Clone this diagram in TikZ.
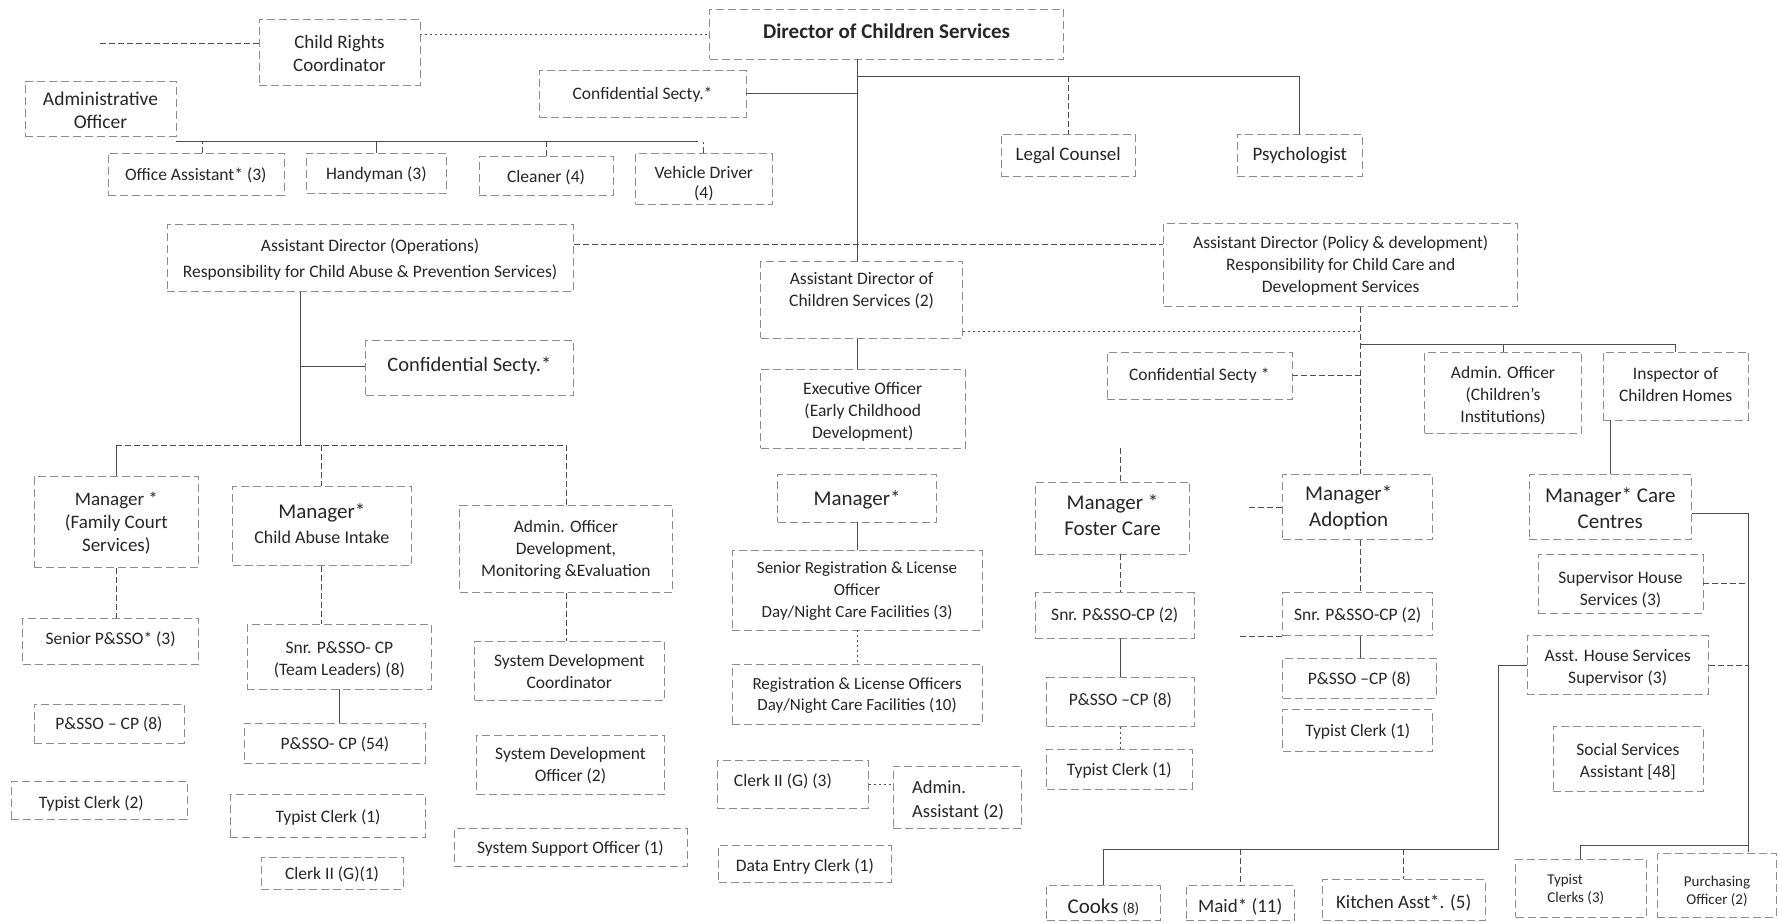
\documentclass[tikz,border=0pt]{standalone}
\usepackage{fontspec}
\setmainfont{Carlito}
\usetikzlibrary{fit}
\begin{document}
\begin{tikzpicture}[x=1.1352pt,y=-1.1352pt,
 box/.style={draw=black!45, dash pattern=on 8pt off 4pt, line width=0.6pt, inner sep=0pt},
 txt/.style={inner sep=0pt, align=center, text=black!85, yshift=-1pt, font=\fontsize{17.5}{22}\selectfont},
 big/.style={font=\fontsize{21}{26}\selectfont},
 sml/.style={font=\fontsize{15}{18}\selectfont},
 conn/.style={draw=black!70, line width=0.8pt},
 dconn/.style={conn, dash pattern=on 6pt off 3pt},
 dotc/.style={conn, dash pattern=on 2pt off 3pt}]
\fill[white] (0,0) rectangle (1568,813);
\useasboundingbox (0,0) rectangle (1568,813);

% ---------- boxes ----------
\node[box, fit={(625,8) (937,52)}] (dir) {};
\node[box, fit={(228,17) (370,75)}] (crc) {};
\node[box, fit={(22,72) (155,120)}] (admo) {};
\node[box, fit={(475,62) (657,103)}] (cs1) {};
\node[box, fit={(95,135) (250,172)}] (oa) {};
\node[box, fit={(270,135) (393,170)}] (hm) {};
\node[box, fit={(422,138) (540,172)}] (cl) {};
\node[box, fit={(560,135) (680,180)}] (vd) {};
\node[box, fit={(882,118) (1000,155)}] (lc) {};
\node[box, fit={(1090,118) (1200,155)}] (psy) {};
\node[box, fit={(147,198) (505,257)}] (ado) {};
\node[box, fit={(670,230) (848,298)}] (adc) {};
\node[box, fit={(1025,197) (1337,270)}] (adp) {};
\node[box, fit={(322,300) (505,348)}] (cs2) {};
\node[box, fit={(670,325) (850,395)}] (exo) {};
\node[box, fit={(975,310) (1138,352)}] (cs3) {};
\node[box, fit={(1255,310) (1393,382)}] (aoci) {};
\node[box, fit={(1412,310) (1540,370)}] (ich) {};
\node[box, fit={(30,420) (175,500)}] (mfc) {};
\node[box, fit={(205,428) (362,498)}] (mcai) {};
\node[box, fit={(405,445) (592,522)}] (aodme) {};
\node[box, fit={(685,418) (825,460)}] (mecd) {};
\node[box, fit={(912,425) (1048,488)}] (mfos) {};
\node[box, fit={(1130,418) (1262,475)}] (mad) {};
\node[box, fit={(1347,418) (1490,475)}] (mcc) {};
\node[box, fit={(20,545) (175,585)}] (spsso) {};
\node[box, fit={(30,620) (162,655)}] (psso8a) {};
\node[box, fit={(10,688) (165,722)}] (tc2) {};
\node[box, fit={(218,550) (380,607)}] (snrtl) {};
\node[box, fit={(215,637) (375,672)}] (psso54) {};
\node[box, fit={(203,700) (375,738)}] (tc1a) {};
\node[box, fit={(230,755) (355,783)}] (clk1) {};
\node[box, fit={(418,565) (585,617)}] (sdc) {};
\node[box, fit={(420,648) (585,700)}] (sdo) {};
\node[box, fit={(400,730) (605,763)}] (sso) {};
\node[box, fit={(645,485) (865,555)}] (srlo) {};
\node[box, fit={(645,585) (865,638)}] (rlo) {};
\node[box, fit={(632,670) (765,712)}] (clk3) {};
\node[box, fit={(787,675) (900,730)}] (aa) {};
\node[box, fit={(633,745) (785,777)}] (dec) {};
\node[box, fit={(912,522) (1052,562)}] (snrf) {};
\node[box, fit={(922,597) (1052,640)}] (pssof) {};
\node[box, fit={(922,660) (1050,695)}] (tcf) {};
\node[box, fit={(1130,522) (1262,560)}] (snra) {};
\node[box, fit={(1130,580) (1265,615)}] (pssoa) {};
\node[box, fit={(1130,625) (1262,662)}] (tca) {};
\node[box, fit={(1355,488) (1500,540)}] (shs) {};
\node[box, fit={(1345,560) (1505,612)}] (ahs) {};
\node[box, fit={(1368,640) (1500,697)}] (ssa) {};
\node[box, fit={(1335,757) (1450,808)}] (tcl) {};
\node[box, fit={(1460,752) (1565,808)}] (po) {};
\node[box, fit={(922,780) (1022,811)}] (cooks) {};
\node[box, fit={(1045,780) (1140,811)}] (maid) {};
\node[box, fit={(1165,775) (1308,811)}] (ka) {};

% ---------- texts ----------
\node[txt, font=\fontsize{21}{26}\bfseries, yshift=3.5pt] (dirt) at (dir.center) {Director of Children Services};
\node[txt, font=\fontsize{19}{23}\selectfont] (crct) at (crc.center) {Child Rights\\Coordinator};
\node[txt, font=\fontsize{19.5}{23}\selectfont] (admot) at (admo.center) {Administrative\\Officer};
\node[txt] (cs1t) at (cs1.center) {Confidential Secty.*};
\node[txt] (oat) at (oa.center) {Office Assistant* (3)};
\node[txt] (hmt) at (hm.center) {Handyman (3)};
\node[txt] (clt) at (cl.center) {Cleaner (4)};
\node[txt, font=\fontsize{17.5}{20.5}\selectfont, yshift=-3.7pt] (vdt) at (vd.center) {Vehicle Driver\\(4)};
\node[txt, font=\fontsize{19}{22}\selectfont] (lct) at (lc.center) {Legal Counsel};
\node[txt, font=\fontsize{19}{22}\selectfont] (psyt) at (psy.center) {Psychologist};
\node[txt, font=\fontsize{17.5}{26}\selectfont] (adot) at (ado.center) {Assistant Director (Operations)\\Responsibility for Child Abuse \& Prevention Services)};
\node[txt, yshift=10.5pt] (adct) at (adc.center) {Assistant Director of\\Children Services (2)};
\node[txt, yshift=1pt] (adpt) at (adp.center) {Assistant Director (Policy \& development)\\Responsibility for Child Care and\\Development Services};
\node[txt, font=\fontsize{20.5}{24}\selectfont, yshift=3.3pt] (cs2t) at (cs2.center) {Confidential Secty.*};
\node[txt, yshift=-2.5pt] (exot) at (exo.center) {Executive Officer\\(Early Childhood\\Development)};
\node[txt, yshift=1.4pt] (cs3t) at (cs3.center) {Confidential Secty *};
\node[txt, yshift=-2pt] (aocit) at (aoci.center) {Admin. Officer\\(Children’s\\Institutions)};
\node[txt, yshift=2.3pt] (icht) at (ich.center) {Inspector of\\Children Homes};
\node[txt, font=\fontsize{19}{23}\selectfont] (mfct) at (mfc.center) {Manager *\\(Family Court\\Services)};
\node[txt, font=\fontsize{18}{25}\selectfont, yshift=3pt] (mcait) at (mcai.center) {{\fontsize{21}{26}\selectfont Manager*}\\Child Abuse Intake};
\node[txt] (aodmet) at (aodme.center) {Admin. Officer\\Development,\\Monitoring \&Evaluation};
\node[txt, big] (mecdt) at (mecd.center) {Manager*};
\node[txt, big, yshift=3.9pt] (mfost) at (mfos.center) {Manager *\\Foster Care};
\node[txt, big, xshift=-9pt] (madt) at (mad.center) {Manager*\\Adoption};
\node[txt, big] (mcct) at (mcc.center) {Manager* Care\\Centres};
\node[txt, yshift=3.3pt] (spssot) at (spsso.center) {Senior P\&SSO* (3)};
\node[txt] (psso8at) at (psso8a.center) {P\&SSO – CP (8)};
\node[txt, yshift=-2pt, xshift=-8pt] (tc2t) at (tc2.center) {Typist Clerk (2)};
\node[txt, yshift=-2pt] (snrtlt) at (snrtl.center) {Snr. P\&SSO- CP\\(Team Leaders) (8)};
\node[txt] (psso54t) at (psso54.center) {P\&SSO- CP (54)};
\node[txt] (tc1at) at (tc1a.center) {Typist Clerk (1)};
\node[txt] (clk1t) at (clk1.center) {Clerk II (G)(1)};
\node[txt] (sdct) at (sdc.center) {System Development\\Coordinator};
\node[txt] (sdot) at (sdo.center) {System Development\\Officer (2)};
\node[txt] (ssot) at (sso.center) {System Support Officer (1)};
\node[txt, font=\fontsize{17}{22}\selectfont] (srlot) at (srlo.center) {Senior Registration \& License\\Officer\\Day/Night Care Facilities (3)};
\node[txt, font=\fontsize{17}{21}\selectfont] (rlot) at (rlo.center) {Registration \& License Officers\\Day/Night Care Facilities (10)};
\node[txt, yshift=3.7pt, xshift=-10pt] (clk3t) at (clk3.center) {Clerk II (G) (3)};
\node[txt, font=\fontsize{18.5}{24}\selectfont, yshift=-2pt, xshift=0.5pt, align=left] (aat) at (aa.center) {Admin.\\Assistant (2)};
\node[txt, yshift=-2pt] (dect) at (dec.center) {Data Entry Clerk (1)};
\node[txt, yshift=1.4pt] (snrft) at (snrf.center) {Snr. P\&SSO-CP (2)};
\node[txt, yshift=2.6pt] (pssoft) at (pssof.center) {P\&SSO –CP (8)};
\node[txt] (tcft) at (tcf.center) {Typist Clerk (1)};
\node[txt] (snrat) at (snra.center) {Snr. P\&SSO-CP (2)};
\node[txt] (pssoat) at (pssoa.center) {P\&SSO –CP (8)};
\node[txt] (tcat) at (tca.center) {Typist Clerk (1)};
\node[txt, yshift=-5.4pt] (shst) at (shs.center) {Supervisor House\\Services (3)};
\node[txt, yshift=-1.4pt] (ahst) at (ahs.center) {Asst. House Services\\Supervisor (3)};
\node[txt, yshift=-1.4pt] (ssat) at (ssa.center) {Social Services\\Assistant [48]};
\node[txt, sml, xshift=-5pt, align=left] (tclt) at (tcl.center) {Typist\\Clerks (3)};
\node[txt, sml, yshift=-4.4pt] (pot) at (po.center) {Purchasing\\Officer (2)};
\node[txt, yshift=-2.8pt] (cookst) at (cooks.center) {{\fontsize{21}{24}\selectfont Cooks} {\fontsize{15}{18}\selectfont (8)}};
\node[txt, font=\fontsize{19}{22}\selectfont, yshift=-2.8pt] (maidt) at (maid.center) {Maid* (11)};
\node[txt, font=\fontsize{19}{22}\selectfont, yshift=-1.7pt] (kat) at (ka.center) {Kitchen Asst*. (5)};

% helper coordinates
\coordinate (t1) at (755,67);
\coordinate (t2) at (1198,292);
\coordinate (t3) at (1198,303);
\coordinate (c0) at (88,38);
\coordinate (b1) at (178,125);
\coordinate (b2) at (615,125);
\coordinate (h1) at (0,215);
\coordinate (l1) at (265,323);
\coordinate (l2) at (265,392);
\coordinate (f0) at (987,395);
\coordinate (a0) at (1100,447);
\coordinate (a1) at (1092,561);
\coordinate (r1) at (1540,452);
\coordinate (r2) at (1540,745);
\coordinate (k1) at (1320,748);

% top connectors
\draw[conn] (dir.south -| t1) -- (adc.north -| t1);
\draw[conn] (t1) -- (psy.north |- t1) -- (psy.north);
\draw[dconn] (lc.north |- t1) -- (lc.north);
\draw[dotc] (crc.east |- dir.west) -- (dir.west);
\draw[dconn] (c0) -- (c0 -| crc.west);
\draw[conn] (cs1.east) -- (cs1.east -| t1);
\draw[conn] (admo.east |- b1) -- (b2);
\draw[dconn] (oa.north -| b1) -- (b1);
\draw[conn] (hm.north) -- (hm.north |- b1);
\draw[dconn] (cl.north) -- (cl.north |- b1);
\draw[dconn] (vd.north) -- (vd.north |- b1);
\draw[dconn] (ado.east |- h1) -- (adp.west |- h1);

% right branch
\draw[dotc] (adc.east |- t2) -- (t2);
\draw[dconn] (adp.south -| t2) -- (mad.north -| t2);
\draw[conn] (t3) -- (ich.north |- t3) -- (ich.north);
\draw[conn] (aoci.north |- t3) -- (aoci.north);
\draw[dconn] (cs3.east) -- (cs3.east -| t2);
\draw[conn] (mcc.north) -- (mcc.north |- ich.south);
\draw[conn] (mcc.east |- r1) -- (r1) -- (r2) -- (tcl.north |- r2) -- (tcl.north);
\draw[dconn] (r2) -- (r2 |- po.north);
\draw[dconn] (shs.east) -- (shs.east -| r1);
\draw[dconn] (ahs.east) -- (ahs.east -| r1);
\draw[conn] (ahs.west) -| (k1) -- (cooks.north |- k1) -- (cooks.north);
\draw[dconn] (maid.north |- k1) -- (maid.north);
\draw[dconn] (ka.north |- k1) -- (ka.north);

% left branch
\draw[conn] (ado.south -| l2) -- (l2);
\draw[conn] (l1) -- (cs2.west |- l1);
\draw[dconn] (mfc.north |- l2) -- (aodme.north |- l2);
\draw[conn] (mfc.north |- l2) -- (mfc.north);
\draw[dconn] (mcai.north |- l2) -- (mcai.north);
\draw[dconn] (aodme.north |- l2) -- (aodme.north);
\draw[dconn] (mfc.south) -- (mfc.south |- spsso.north);
\draw[dconn] (mcai.south) -- (mcai.south |- snrtl.north);
\draw[conn] (snrtl.south) -- (snrtl.south |- psso54.north);
\draw[dconn] (aodme.south) -- (aodme.south |- sdc.north);

% middle branch
\draw[conn] (adc.south -| t1) -- (exo.north -| t1);
\draw[conn] (mecd.south) -- (mecd.south |- srlo.north);
\draw[dotc] (srlo.south) -- (srlo.south |- rlo.north);
\draw[dotc] (clk3.east) -- (clk3.east -| aa.west);

% foster / adoption
\draw[dconn] (f0) -- (f0 |- mfos.north);
\draw[dconn] (mfos.south -| f0) -- (snrf.north -| f0);
\draw[conn] (snrf.south -| f0) -- (pssof.north -| f0);
\draw[dotc] (pssof.south -| f0) -- (tcf.north -| f0);
\draw[dconn] (a0) -- (a0 -| mad.west);
\draw[dconn] (mad.south -| t2) -- (snra.north -| t2);
\draw[dconn] (a1) -- (a1 -| snra.west);
\draw[conn] (snra.south -| t2) -- (pssoa.north -| t2);
\end{tikzpicture}
\end{document}
